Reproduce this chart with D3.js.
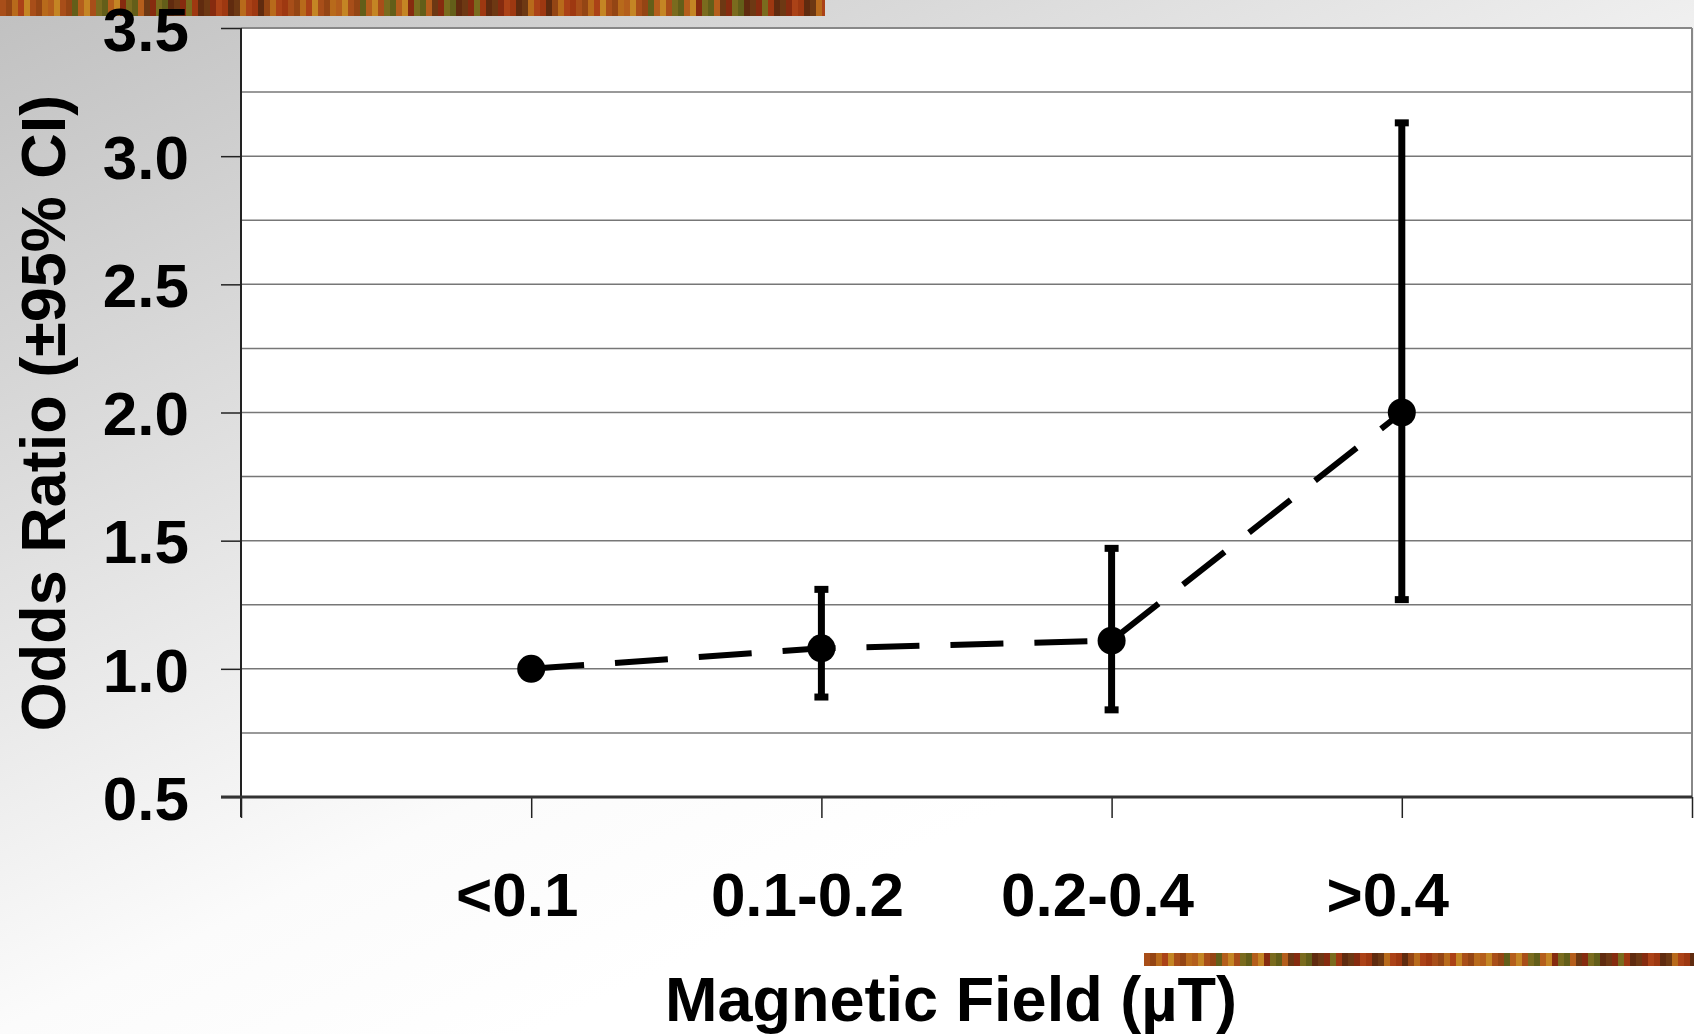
<!DOCTYPE html>
<html>
<head>
<meta charset="utf-8">
<script src="https://cdn.jsdelivr.net/npm/d3@7"></script>
<style>
  html, body { margin: 0; padding: 0; background: #fff; }
  svg { display: block; }
  text { font-family: "Liberation Sans", Arial, sans-serif; font-weight: bold; fill: #000; }
</style>
</head>
<body>
<div id="chart"></div>
<script>
// data
var categories = ["<0.1", "0.1-0.2", "0.2-0.4", ">0.4"];
var oddsRatio  = [1.0, 1.08, 1.11, 2.0];
var ciLow      = [null, 0.89, 0.84, 1.27];
var ciHigh     = [null, 1.31, 1.47, 3.13];
var yTicks     = [0.5, 1.0, 1.5, 2.0, 2.5, 3.0, 3.5];
var yGrid      = [0.75, 1.0, 1.25, 1.5, 1.75, 2.0, 2.25, 2.5, 2.75, 3.0, 3.25];

// autumn strip colours (decoration only)
var stripColors = ["#b4561c", "#8a2a10", "#c9781e", "#5e6a1c", "#a83a12", "#d79a2a",
                   "#6b3a14", "#9c4a16", "#7b7a22", "#b8461a", "#c46a20", "#5a2a10"];

var W = 1694, H = 1034;
// plot area edges ("top" is reserved on window, so use other names)
var pLeft = 241, pRight = 1692, pTop = 28, pBottom = 797;

var svg = d3.select("#chart").append("svg")
    .attr("width", W)
    .attr("height", H);

var defs = svg.append("defs");

// page background: grey in the top-left fading to white
var bg = defs.append("linearGradient")
    .attr("id", "bg")
    .attr("gradientUnits", "userSpaceOnUse")
    .attr("x1", 0).attr("y1", 0)
    .attr("x2", 500).attr("y2", 1050);
bg.append("stop").attr("offset", 0).attr("stop-color", "#c0c0c0");
bg.append("stop").attr("offset", 0.8).attr("stop-color", "#fbfbfb");
bg.append("stop").attr("offset", 1).attr("stop-color", "#ffffff");

svg.append("rect")
    .attr("width", W).attr("height", H)
    .attr("fill", "url(#bg)");

// textured strips
function strip(x0, y0, w, h) {
  var g = svg.append("g");
  var n = Math.ceil(w / 6);
  for (var i = 0; i < n; i++) {
    g.append("rect")
      .attr("x", x0 + i * 6).attr("y", y0)
      .attr("width", Math.min(6, w - i * 6)).attr("height", h)
      .attr("fill", stripColors[(i * 7 + (i >> 2)) % stripColors.length]);
  }
  g.append("rect")
    .attr("x", x0).attr("y", y0).attr("width", w).attr("height", h)
    .attr("fill", "#7a3010").attr("opacity", 0.2);
}
strip(0, 0, 825, 16);
strip(1144, 953, 550, 13);

var x = d3.scaleLinear().domain([0, 5]).range([pLeft, pRight]);
var y = d3.scaleLinear().domain([0.5, 3.5]).range([pBottom, pTop]);

// plot area
svg.append("rect")
    .attr("x", pLeft).attr("y", pTop)
    .attr("width", pRight - pLeft).attr("height", pBottom - pTop)
    .attr("fill", "#fff");

// grid lines
svg.append("g").selectAll("line")
  .data(yGrid)
  .enter().append("line")
    .attr("x1", pLeft).attr("x2", pRight)
    .attr("y1", function(d) { return y(d); })
    .attr("y2", function(d) { return y(d); })
    .attr("stroke", "#777")
    .attr("stroke-width", 1.5);

// top and right borders
svg.append("line")
    .attr("x1", pLeft).attr("x2", pRight).attr("y1", pTop).attr("y2", pTop)
    .attr("stroke", "#888").attr("stroke-width", 2);
svg.append("line")
    .attr("x1", pRight).attr("x2", pRight).attr("y1", pTop).attr("y2", pBottom)
    .attr("stroke", "#888").attr("stroke-width", 2);

// y axis
var yAxis = d3.axisLeft(y)
    .tickValues(yTicks)
    .tickSize(20)
    .tickPadding(32)
    .tickFormat(d3.format(".1f"));
var gy = svg.append("g")
    .attr("transform", "translate(" + pLeft + ",0)")
    .call(yAxis);
gy.select(".domain").remove();
gy.selectAll(".tick line").attr("stroke", "#222").attr("stroke-width", 1.5);
gy.selectAll(".tick text")
    .attr("font-size", 62)
    .attr("font-family", "Liberation Sans, Arial, sans-serif")
    .attr("font-weight", "bold")
    .attr("fill", "#000")
    .attr("dy", "0.36em");
svg.append("line")
    .attr("x1", pLeft).attr("x2", pLeft).attr("y1", pTop).attr("y2", pBottom + 20)
    .attr("stroke", "#222").attr("stroke-width", 2);

// x axis
var xAxis = d3.axisBottom(x)
    .tickValues([0, 1, 2, 3, 4, 5])
    .tickSize(21)
    .tickFormat("");
var gx = svg.append("g")
    .attr("transform", "translate(0," + pBottom + ")")
    .call(xAxis);
gx.select(".domain").remove();
gx.selectAll(".tick line").attr("stroke", "#222").attr("stroke-width", 1.5);
svg.append("line")
    .attr("x1", pLeft - 20).attr("x2", pRight).attr("y1", pBottom).attr("y2", pBottom)
    .attr("stroke", "#333").attr("stroke-width", 3);

svg.append("g").selectAll("text")
  .data(categories)
  .enter().append("text")
    .attr("x", function(d, i) { return x(i + 1) - 14; })
    .attr("y", 916)
    .attr("text-anchor", "middle")
    .attr("font-size", 62)
    .text(function(d) { return d; });

// axis titles
svg.append("text")
    .attr("x", 951).attr("y", 1021)
    .attr("text-anchor", "middle")
    .attr("font-size", 63)
    .text("Magnetic Field (\u00b5T)");

svg.append("text")
    .attr("transform", "translate(65,413) rotate(-90)")
    .attr("text-anchor", "middle")
    .attr("font-size", 63)
    .text("Odds Ratio (\u00b195% CI)");

// dashed trend line
var pts = oddsRatio.map(function(d, i) { return [i + 1, d]; });
svg.append("path")
    .datum(pts)
    .attr("d", d3.line()
      .x(function(d) { return x(d[0]); })
      .y(function(d) { return y(d[1]); }))
    .attr("fill", "none")
    .attr("stroke", "#000")
    .attr("stroke-width", 6)
    .attr("stroke-dasharray", "53,31");

// error bars
var eb = svg.append("g");
oddsRatio.forEach(function(d, i) {
  if (ciLow[i] == null) return;
  var cx = x(i + 1);
  eb.append("line")
    .attr("x1", cx).attr("x2", cx)
    .attr("y1", y(ciLow[i])).attr("y2", y(ciHigh[i]))
    .attr("stroke", "#000").attr("stroke-width", 7);
  [ciLow[i], ciHigh[i]].forEach(function(v) {
    eb.append("line")
      .attr("x1", cx - 7).attr("x2", cx + 7)
      .attr("y1", y(v)).attr("y2", y(v))
      .attr("stroke", "#000").attr("stroke-width", 7);
  });
});

// markers
svg.append("g").selectAll("circle")
  .data(oddsRatio)
  .enter().append("circle")
    .attr("cx", function(d, i) { return x(i + 1); })
    .attr("cy", function(d) { return y(d); })
    .attr("r", 14)
    .attr("fill", "#000");
</script>
</body>
</html>
